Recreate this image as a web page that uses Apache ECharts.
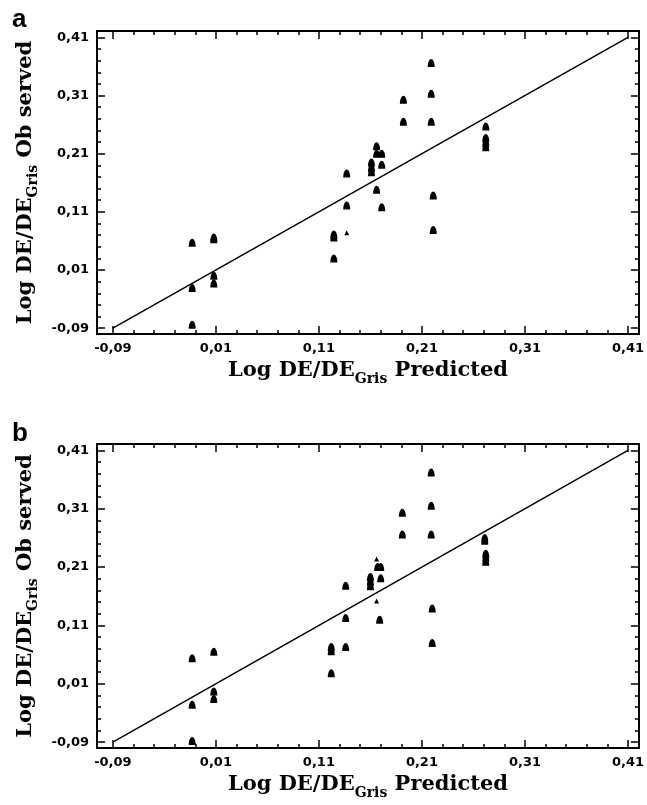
<!DOCTYPE html>
<html>
<head>
<meta charset="utf-8">
<script src="https://cdn.jsdelivr.net/npm/echarts@6/dist/echarts.min.js"></script>
<style>
  html, body { margin: 0; padding: 0; background: #fff; }
  #main { width: 647px; height: 805px; }
</style>
</head>
<body>
<div id="main"></div>
<script>
// tick marks shared by both panels
var tickValues = [-0.09, 0.01, 0.11, 0.21, 0.31, 0.41];
var tickLabels = ['-0,09', '0,01', '0,11', '0,21', '0,31', '0,41'];
var minorValues = [];
for (var i = 0; i <= 25; i++) minorValues.push(+(-0.09 + i * 0.02).toFixed(2));

// y = x reference line
var fitLine = [-0.09, 0.41];

// panel a
var predA = [0.219, 0.219, 0.192, 0.192, 0.219, 0.272, 0.272, 0.272, 0.272, 0.166,
             0.166, 0.171, 0.171, 0.161, 0.161, 0.161, 0.137, 0.166, 0.221, 0.137,
             0.171, 0.221, 0.1245, 0.1245, 0.1245, -0.013, 0.008, 0.008, 0.008, 0.008,
             -0.013, -0.013];
var obsA  = [0.366, 0.313, 0.303, 0.265, 0.265, 0.257, 0.237, 0.229, 0.221, 0.223,
             0.210, 0.210, 0.191, 0.195, 0.186, 0.178, 0.176, 0.148, 0.138, 0.121,
             0.118, 0.079, 0.071, 0.066, 0.030, 0.057, 0.066, 0.063, 0.000, -0.013,
             -0.021, -0.084];
var predASmall = [0.137];
var obsASmall  = [0.074];

// panel b
var predB = [0.219, 0.219, 0.191, 0.191, 0.219, 0.271, 0.271, 0.272, 0.272, 0.272,
             0.167, 0.170, 0.170, 0.160, 0.160, 0.160, 0.136, 0.169, 0.136, 0.220,
             0.220, 0.122, 0.122, 0.136, 0.122, -0.013, 0.008, 0.008, 0.008, -0.013,
             -0.013];
var obsB  = [0.372, 0.315, 0.303, 0.266, 0.266, 0.260, 0.255, 0.233, 0.226, 0.219,
             0.210, 0.210, 0.191, 0.193, 0.185, 0.177, 0.178, 0.120, 0.123, 0.139,
             0.080, 0.073, 0.066, 0.073, 0.028, 0.054, 0.065, -0.003, -0.016, -0.026,
             -0.088];
var predBSmall = [0.166, 0.166];
var obsBSmall  = [0.224, 0.152];

var xMin = -0.1054, xMax = 0.4206;
var yMin = -0.1, yMax = 0.421;

function pairs(xs, ys) {
  return xs.map(function (x, k) { return [x, ys[k]]; });
}

function fmt(v) {
  var best = 0;
  for (var k = 1; k < tickValues.length; k++) {
    if (Math.abs(tickValues[k] - v) < Math.abs(tickValues[best] - v)) best = k;
  }
  return tickLabels[best];
}

var nameRich = {
  m: { fontFamily: 'DejaVu Serif', fontWeight: 'bold', fontSize: 21, color: '#000', lineHeight: 24 },
  s: { fontFamily: 'DejaVu Serif', fontWeight: 'bold', fontSize: 14, color: '#000', lineHeight: 14, padding: [16, 0, 0, 0] }
};

function makeAxis(dim, g, pos, major, withLabel) {
  var ax = {
    type: 'value',
    gridIndex: g,
    position: pos,
    min: dim === 'x' ? xMin : yMin,
    max: dim === 'x' ? xMax : yMax,
    axisLine: { show: true, onZero: false, lineStyle: { color: '#000', width: 2 } },
    axisTick: {
      show: true, inside: true,
      length: major ? 8 : 4,
      customValues: major ? tickValues : minorValues,
      lineStyle: { color: '#000', width: 1.5 }
    },
    axisLabel: {
      show: withLabel,
      customValues: tickValues,
      formatter: fmt,
      margin: 8,
      fontFamily: 'DejaVu Sans',
      fontWeight: 'bold',
      fontSize: 13,
      color: '#000'
    },
    splitLine: { show: false }
  };
  if (withLabel && dim === 'x') {
    ax.name = '{m|Log DE/DE}{s|Gris}{m| Predicted}';
    ax.nameLocation = 'middle';
    ax.nameGap = 24;
    ax.nameTextStyle = { rich: nameRich };
  }
  if (withLabel && dim === 'y') {
    ax.name = '{m|Log DE/DE}{s|Gris}{m| Ob served}';
    ax.nameLocation = 'middle';
    ax.nameRotate = 90;
    ax.nameGap = 57;
    ax.nameTextStyle = { rich: nameRich };
  }
  return ax;
}

var xAxes = [], yAxes = [];
[0, 1].forEach(function (g) {
  xAxes.push(makeAxis('x', g, 'bottom', true, true));
  xAxes.push(makeAxis('x', g, 'top', true, false));
  xAxes.push(makeAxis('x', g, 'bottom', false, false));
  xAxes.push(makeAxis('x', g, 'top', false, false));
  yAxes.push(makeAxis('y', g, 'left', true, true));
  yAxes.push(makeAxis('y', g, 'right', true, false));
  yAxes.push(makeAxis('y', g, 'left', false, false));
  yAxes.push(makeAxis('y', g, 'right', false, false));
});

var dome = 'path://M1,10 C1,4 3,0 5,0 C7,0 9,4 9,10 Z';

function panelSeries(g, xs, ys, sxs, sys) {
  return [
    {
      type: 'line', xAxisIndex: g * 4, yAxisIndex: g * 4,
      data: pairs(fitLine, fitLine), symbol: 'none', silent: true,
      lineStyle: { color: '#000', width: 1.5 }, z: 1
    },
    {
      type: 'scatter', xAxisIndex: g * 4, yAxisIndex: g * 4,
      data: pairs(xs, ys), symbol: dome, symbolSize: [7, 8],
      itemStyle: { color: '#000', opacity: 1 }, z: 3
    },
    {
      type: 'scatter', xAxisIndex: g * 4, yAxisIndex: g * 4,
      data: pairs(sxs, sys), symbol: 'triangle', symbolSize: [5, 5],
      itemStyle: { color: '#000', opacity: 1 }, z: 3
    }
  ];
}

var chart = echarts.init(document.getElementById('main'));
chart.setOption({
  backgroundColor: '#fff',
  animation: false,
  title: [
    { text: 'a', left: 12, top: 7, padding: 0,
      textStyle: { fontFamily: 'Liberation Sans', fontWeight: 'bold', fontSize: 26, color: '#000' } },
    { text: 'b', left: 12, top: 421, padding: 0,
      textStyle: { fontFamily: 'Liberation Sans', fontWeight: 'bold', fontSize: 26, color: '#000' } }
  ],
  grid: [
    { left: 97, right: 5, top: 31, height: 303 },
    { left: 97, right: 5, top: 444, height: 304 }
  ],
  xAxis: xAxes,
  yAxis: yAxes,
  series: panelSeries(0, predA, obsA, predASmall, obsASmall)
    .concat(panelSeries(1, predB, obsB, predBSmall, obsBSmall))
});
</script>
</body>
</html>
